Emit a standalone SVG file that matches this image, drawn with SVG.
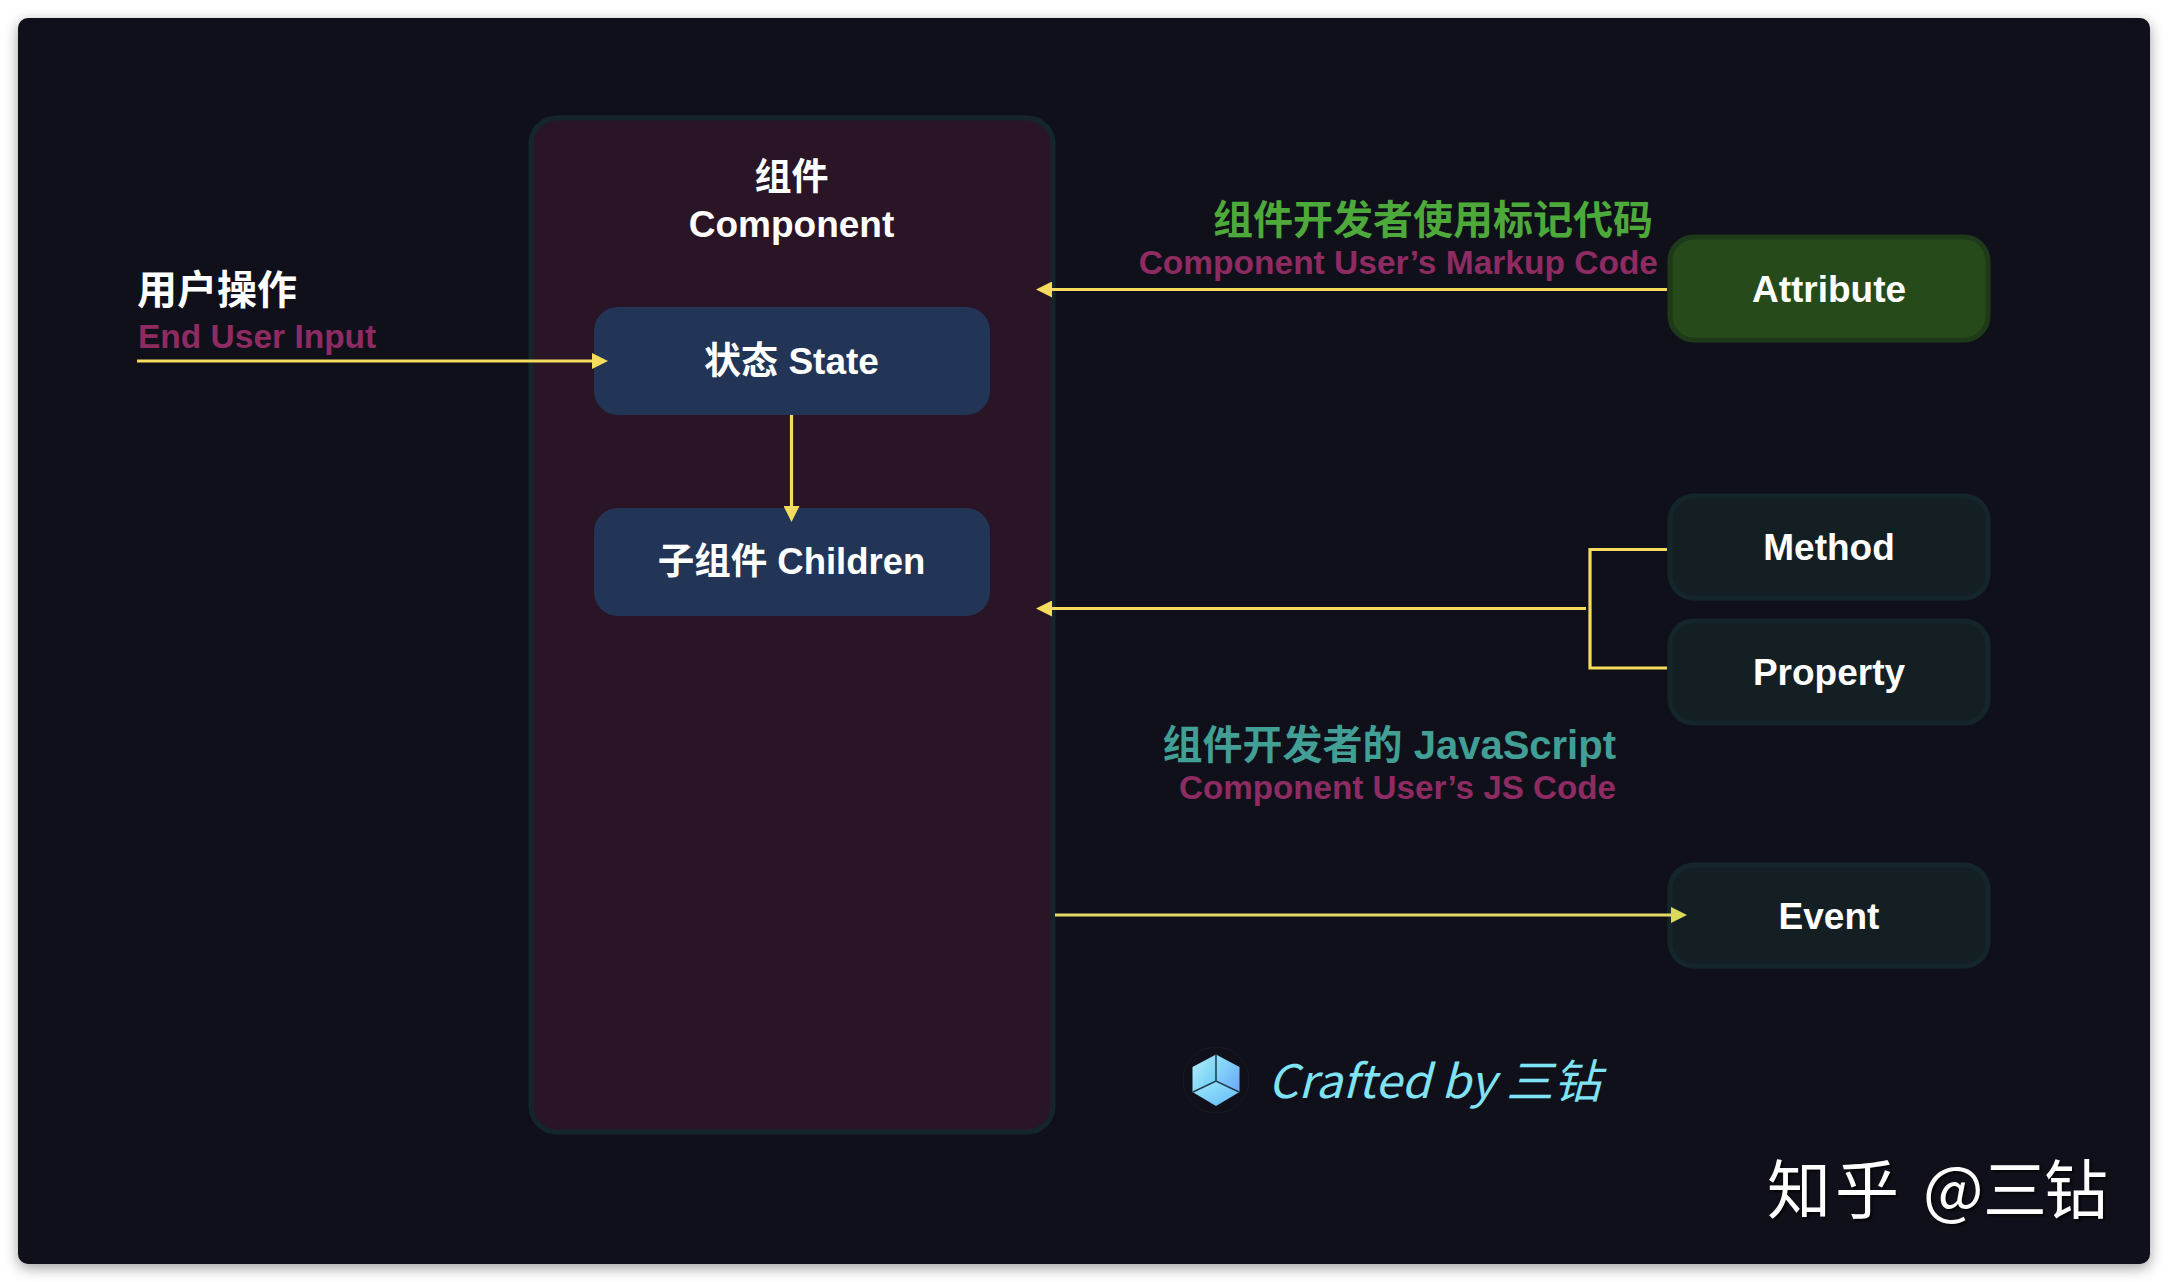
<svg xmlns="http://www.w3.org/2000/svg" width="2168" height="1282" viewBox="0 0 2168 1282">
<style>
text{font-family:"Liberation Sans","Noto Sans CJK SC",sans-serif;font-weight:700}
.w{fill:#fff;font-size:37px;text-anchor:middle}
.m{fill:#8e2b62;font-size:33.500px}
.box{stroke-width:5}
.dk{fill:#141f24;stroke:#15262a}
.blue{fill:#223557}
.conn{fill:none;stroke:#f6dc5c;stroke-width:3.200}
</style>
<defs>
<filter id="sh" x="-5%" y="-5%" width="110%" height="110%" color-interpolation-filters="sRGB"><feDropShadow dx="0" dy="4" stdDeviation="7" flood-color="#000" flood-opacity=".38"/></filter>
<filter id="ws" x="-5%" y="-10%" width="110%" height="120%" color-interpolation-filters="sRGB"><feDropShadow dx="2" dy="2" stdDeviation="1" flood-color="#000" flood-opacity=".7"/></filter>
<marker id="ah" markerUnits="userSpaceOnUse" markerWidth="16" markerHeight="16" refX="8" refY="8" orient="auto"><path d="M0 0L16 8L0 16Z" fill="#f6dc5c"/></marker>
<marker id="ae" markerUnits="userSpaceOnUse" markerWidth="16" markerHeight="16" refX="8" refY="8" orient="auto"><path d="M0 0L16 8L0 16Z" fill="#dcd85a"/></marker>
<linearGradient id="g1" x1="0" y1="0" x2="1" y2="1"><stop offset="0" stop-color="#b7eefb"/><stop offset="1" stop-color="#63c9f3"/></linearGradient>
<linearGradient id="g2" x1="0" y1="0" x2="1" y2="1"><stop offset="0" stop-color="#8fe4fa"/><stop offset="1" stop-color="#6aa8f8"/></linearGradient>
<linearGradient id="g3" x1="0" y1="0" x2="1" y2="1"><stop offset="0" stop-color="#9fecfd"/><stop offset="1" stop-color="#62b8f8"/></linearGradient>
</defs>
<rect width="2168" height="1282" fill="#fff"/>
<rect id="canvas" x="18" y="18" width="2132" height="1246" rx="10" fill="#10101a" filter="url(#sh)"/>

<g id="component">
<rect class="box" x="531" y="118" width="522" height="1014" rx="26" fill="#291526" stroke="#15262a"/>
<text class="w" x="791.500" y="190">组件</text>
<text class="w" x="791.500" y="237">Component</text>
</g>
<g id="state">
<rect class="blue" x="594" y="307" width="396" height="108" rx="24"/>
<text class="w" x="791.500" y="374">状态 State</text>
</g>
<g id="children">
<rect class="blue" x="594" y="508" width="396" height="108" rx="24"/>
<text class="w" x="791.500" y="574" style="font-size:36.500px">子组件 Children</text>
</g>
<g id="attribute">
<rect class="box" x="1670" y="237" width="318" height="103" rx="24" fill="#274a1b" stroke="#1f3a1a"/>
<text class="w" x="1829" y="302">Attribute</text>
</g>
<g id="method">
<rect class="box dk" x="1670" y="496" width="318" height="102" rx="24"/>
<text class="w" x="1829" y="560">Method</text>
</g>
<g id="property">
<rect class="box dk" x="1670" y="621" width="318" height="102" rx="24"/>
<text class="w" x="1829" y="685">Property</text>
</g>
<g id="event">
<rect class="box dk" x="1670" y="865" width="318" height="101" rx="24"/>
<text class="w" x="1829" y="929">Event</text>
</g>

<g id="connectors">
<path class="conn" d="M137 361H600" marker-end="url(#ah)"/>
<path class="conn" d="M791.500 415V514" marker-end="url(#ah)"/>
<path class="conn" d="M1667 289.500H1044" marker-end="url(#ah)"/>
<path class="conn" d="M1586 608.500H1044" marker-end="url(#ah)"/>
<path class="conn" d="M1667 549.500H1590V668H1667"/>
<path class="conn" style="stroke:#e6d96a" d="M1055 915H1679" marker-end="url(#ae)"/>
</g>

<g id="labels">
<text x="137" y="304" style="fill:#fff;font-size:40px">用户操作</text>
<text class="m" x="138" y="348">End User Input</text>
<text x="1653" y="234" text-anchor="end" style="fill:#4da93a;font-size:40px">组件开发者使用标记代码</text>
<text class="m" x="1658" y="274" text-anchor="end">Component User’s Markup Code</text>
<text x="1616" y="759" text-anchor="end" style="fill:#419f95;font-size:40px">组件开发者的 JavaScript</text>
<text class="m" x="1616" y="799" text-anchor="end" style="font-size:33.200px">Component User’s JS Code</text>
</g>

<g id="logo">
<circle cx="1216" cy="1080" r="33" fill="none" stroke="#1a1a24" stroke-width="1"/>
<path d="M1216 1054.500L1239.500 1067V1092L1216 1081Z" fill="url(#g2)"/>
<path d="M1216 1054.500L1192.500 1067V1092L1216 1081Z" fill="url(#g1)"/>
<path d="M1192.500 1092L1216 1081L1239.500 1092L1216 1106Z" fill="url(#g3)"/>
<path d="M1216 1054.500V1081M1193 1092L1216 1081L1239 1092" fill="none" stroke="#1d3a4a" stroke-width="1.500"/>
</g>
<text id="crafted" x="1268" y="1098" textLength="333" lengthAdjust="spacingAndGlyphs" style="fill:#7fe3f4;font-family:'Noto Sans CJK SC',sans-serif;font-weight:400;font-size:46px;font-style:italic">Crafted by 三钻</text>
<text id="watermark" y="1213" x="1767 1835 1923 1983 2044" filter="url(#ws)" style="fill:#fff;font-family:'Noto Sans CJK SC',sans-serif;font-weight:400;font-size:64px">知乎@三钻</text>
</svg>
